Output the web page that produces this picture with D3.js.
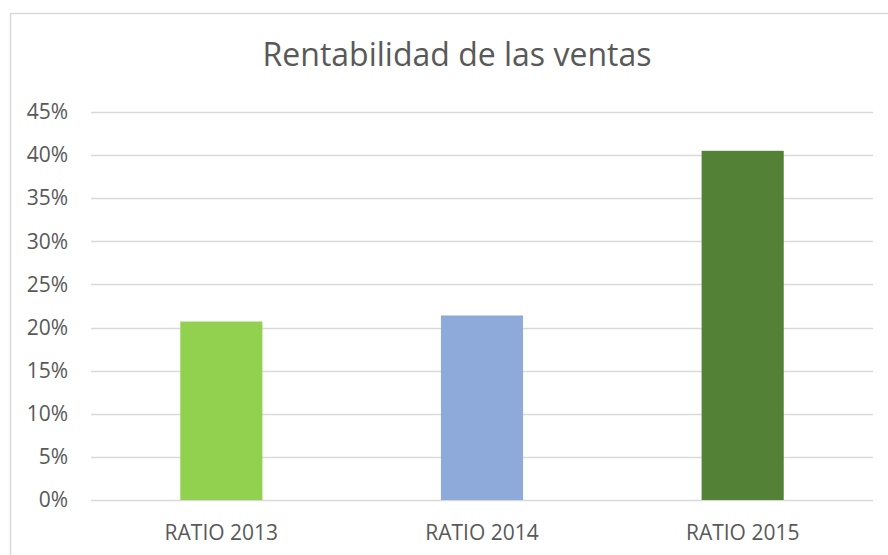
<!DOCTYPE html>
<html lang="es">
  <head>
    <meta charset="UTF-8" />
    <title>Rentabilidad de las ventas</title>
    <script src="https://cdn.jsdelivr.net/npm/d3@7"></script>
    <style>
      body {
        margin: 0;
        background: #fff;
      }
      text {
        font-family: "Open Sans", sans-serif;
        fill: #595959;
      }
    </style>
  </head>
  <body>
    <div id="chart"></div>
    <script>
      // data
      var categories = ["RATIO 2013", "RATIO 2014", "RATIO 2015"];
      var values = [0.207, 0.214, 0.405];
      var colors = ["#92D050", "#8EAADB", "#538135"];
      var yTicks = [0, 0.05, 0.1, 0.15, 0.2, 0.25, 0.3, 0.35, 0.4, 0.45];

      var width = 888,
        height = 555;
      var margin = { top: 112, right: 15, bottom: 55, left: 91 };

      var svg = d3
        .select("#chart")
        .append("svg")
        .attr("width", width)
        .attr("height", height);

      // outer chart frame
      svg
        .append("rect")
        .attr("x", 10.5)
        .attr("y", 13.5)
        .attr("width", 890)
        .attr("height", 600)
        .style("fill", "none")
        .style("stroke", "#d9d9d9")
        .style("stroke-width", 1.5);

      var x = d3
        .scaleBand()
        .domain(categories)
        .range([margin.left, width - margin.right])
        .paddingInner(0.685)
        .paddingOuter(0.3425);

      var y = d3
        .scaleLinear()
        .domain([0, 0.45])
        .range([height - margin.bottom, margin.top]);

      // gridlines
      svg
        .append("g")
        .selectAll("line")
        .data(yTicks)
        .enter()
        .append("line")
        .attr("x1", margin.left)
        .attr("x2", width - margin.right)
        .attr("y1", function(d) {
          return Math.round(y(d)) + 0.5;
        })
        .attr("y2", function(d) {
          return Math.round(y(d)) + 0.5;
        })
        .style("stroke", "#d9d9d9")
        .style("stroke-width", 1.5);

      // y axis labels
      var yAxis = svg
        .append("g")
        .attr("transform", "translate(" + (margin.left - 23) + ",0)")
        .call(
          d3
            .axisLeft(y)
            .tickValues(yTicks)
            .tickFormat(d3.format(".0%"))
            .tickSize(0)
            .tickPadding(0)
        );
      yAxis.select(".domain").remove();
      yAxis
        .selectAll("text")
        .style("font-size", "21px")
        .style("font-family", "'Open Sans', sans-serif")
        .attr("fill", "#595959");

      // bars
      svg
        .append("g")
        .selectAll("rect")
        .data(values)
        .enter()
        .append("rect")
        .attr("x", function(d, i) {
          return x(categories[i]);
        })
        .attr("y", function(d) {
          return y(d);
        })
        .attr("width", x.bandwidth())
        .attr("height", function(d) {
          return y(0) - y(d);
        })
        .style("fill", function(d, i) {
          return colors[i];
        });

      // x axis labels
      var xAxis = svg
        .append("g")
        .attr("transform", "translate(0," + (height - margin.bottom) + ")")
        .call(d3.axisBottom(x).tickSize(0).tickPadding(25));
      xAxis.select(".domain").remove();
      xAxis
        .selectAll("text")
        .style("font-size", "21px")
        .style("font-family", "'Open Sans', sans-serif")
        .attr("fill", "#595959");

      // title
      svg
        .append("text")
        .attr("x", 457)
        .attr("y", 66)
        .attr("text-anchor", "middle")
        .style("font-size", "32px")
        .text("Rentabilidad de las ventas");
    </script>
  </body>
</html>
